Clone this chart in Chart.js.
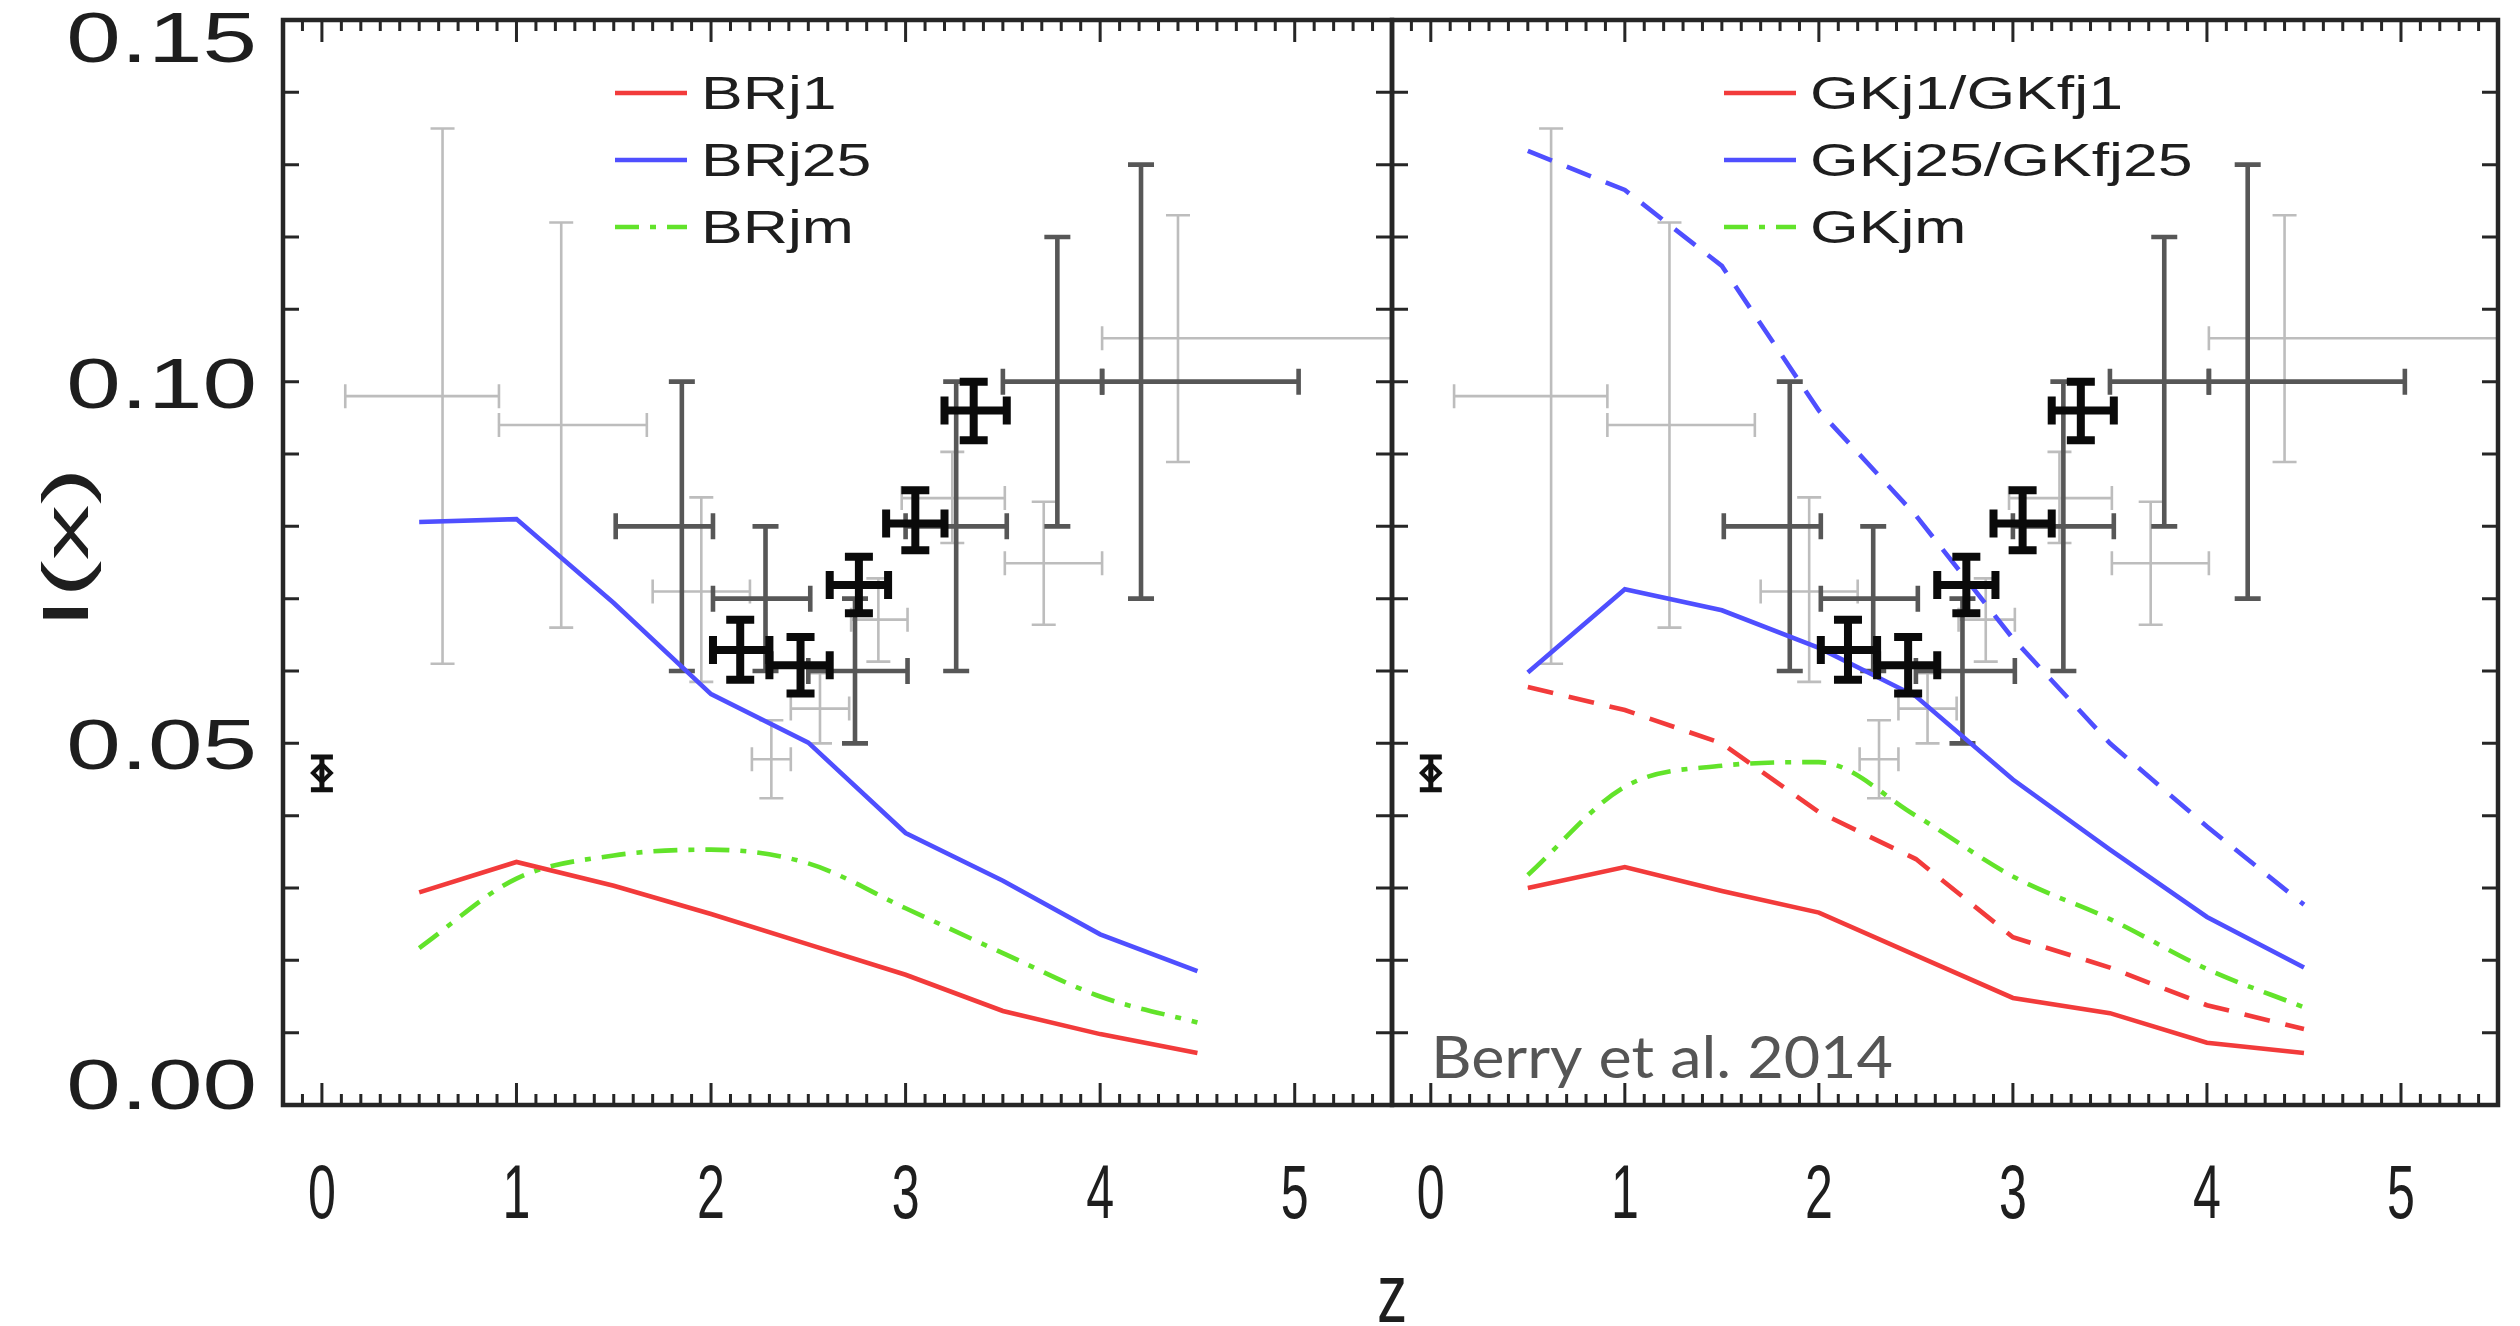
<!DOCTYPE html>
<html>
<head>
<meta charset="utf-8">
<title>I(x) versus z</title>
<script src="https://cdn.jsdelivr.net/npm/chart.js@4.4.1/dist/chart.umd.min.js"></script>
<style>
  html, body { margin: 0; padding: 0; background: #fff; }
  #wrap { position: relative; width: 2520px; height: 1326px; overflow: hidden; background: #fff; }
  #left  { position: absolute; left: 0; top: 0; }
  #right { position: absolute; left: 1370px; top: 0; }
</style>
</head>
<body>
<div id="wrap">
  <canvas id="left" width="1430" height="1326"></canvas>
  <canvas id="right" width="1150" height="1326"></canvas>
</div>
<script>
// ---- model curves, sampled in redshift ----
const zModel = [0.5, 1.0, 1.5, 2.0, 2.5, 3.0, 3.5, 4.0, 4.5];
const brj1   = [0.0294, 0.0336, 0.0303, 0.0264, 0.0222, 0.0180, 0.0130, 0.0098, 0.0072];
const brj25  = [0.0806, 0.0810, 0.0694, 0.0568, 0.0501, 0.0376, 0.0310, 0.0236, 0.0185];
const brjm   = [0.0217, 0.0313, 0.0345, 0.0353, 0.0334, 0.0272, 0.0210, 0.0150, 0.0114];
const gkj1   = [0.0300, 0.0329, 0.0296, 0.0266, 0.0207, 0.0148, 0.0127, 0.0086, 0.0072];
const gkfj1  = [0.0578, 0.0546, 0.0500, 0.0405, 0.0340, 0.0232, 0.0190, 0.0138, 0.0105];
const gkj25  = [0.0598, 0.0713, 0.0684, 0.0632, 0.0565, 0.0450, 0.0353, 0.0260, 0.0190];
const gkfj25 = [0.1319, 0.1265, 0.1160, 0.0960, 0.0815, 0.0645, 0.0500, 0.0385, 0.0277];
const gkjm   = [0.0318, 0.0440, 0.0469, 0.0474, 0.0400, 0.0316, 0.0257, 0.0188, 0.0135];

// ---- measurements (centre, z range, I range) ----
// older, wide-bin estimates
const lightZ   = [0.62, 1.23, 1.95, 2.31, 2.56, 2.86, 3.24, 3.71, 4.40];
const lightZLo = [0.12, 0.91, 1.70, 2.21, 2.41, 2.72, 2.98, 3.51, 4.01];
const lightZHi = [0.91, 1.67, 2.20, 2.41, 2.71, 3.01, 3.51, 4.01, 5.60];
const lightI   = [0.0980, 0.0940, 0.0710, 0.0478, 0.0548, 0.0671, 0.0839, 0.0749, 0.1060];
const lightILo = [0.0610, 0.0660, 0.0585, 0.0424, 0.0500, 0.0613, 0.0777, 0.0664, 0.0889];
const lightIHi = [0.1350, 0.1220, 0.0840, 0.0532, 0.0597, 0.0728, 0.0903, 0.0834, 0.1230];
// intermediate estimates
const darkZ   = [1.85, 2.28, 2.74, 3.26, 3.78, 4.21];
const darkZLo = [1.51, 2.01, 2.50, 3.00, 3.50, 4.01];
const darkZHi = [2.01, 2.51, 3.01, 3.52, 4.01, 5.02];
const darkI   = [0.080, 0.070, 0.060, 0.080, 0.100, 0.100];
const darkILo = [0.060, 0.060, 0.050, 0.060, 0.080, 0.070];
const darkIHi = [0.100, 0.080, 0.070, 0.100, 0.120, 0.130];
// high-precision estimates
const boldZ   = [2.15, 2.46, 2.76, 3.05, 3.35];
const boldZLo = [2.01, 2.30, 2.61, 2.90, 3.20];
const boldZHi = [2.30, 2.61, 2.91, 3.20, 3.52];
const boldI   = [0.0629, 0.0608, 0.0719, 0.0804, 0.0960];
const boldILo = [0.0588, 0.0569, 0.0680, 0.0767, 0.0919];
const boldIHi = [0.0671, 0.0647, 0.0758, 0.0850, 0.1000];
// local (z = 0) value
const localZ   = [0.0];
const localI   = [0.0459];
const localILo = [0.0436];
const localIHi = [0.0481];

// ---- axes ----
const zMin = -0.2, zMax = 5.5;
const iMin = 0.0,  iMax = 0.15;
const zTicks = [0, 1, 2, 3, 4, 5];
const zTickText = ['0', '1', '2', '3', '4', '5'];
const iTicks = [0.00, 0.05, 0.10, 0.15];
const iTickText = ['0.00', '0.05', '0.10', '0.15'];

const RED = '#f23b3b', BLUE = '#4f4fff', GREEN = '#62e32a';
const DASH = [26, 16];
const DASHDOT = [24, 11, 6, 11];

const pts = (xs, ys) => xs.map((x, i) => ({ x: x, y: ys[i] }));

function curve(label, values, color, dash, smooth, legendText) {
  return {
    type: 'line', label: label, data: pts(zModel, values),
    borderColor: color, borderWidth: 4.6, borderDash: dash || [],
    pointRadius: 0, fill: false, tension: 0,
    cubicInterpolationMode: smooth ? 'monotone' : 'default',
    legendText: legendText
  };
}

function observations() {
  return [
    { type: 'scatter', label: 'wide bins', data: pts(lightZ, lightI), pointRadius: 0,
      err: { zLo: lightZLo, zHi: lightZHi, iLo: lightILo, iHi: lightIHi },
      errStyle: { color: '#bdbdbd', width: 2.6, cap: 24, over: false } },
    { type: 'scatter', label: 'intermediate', data: pts(darkZ, darkI), pointRadius: 0,
      err: { zLo: darkZLo, zHi: darkZHi, iLo: darkILo, iHi: darkIHi },
      errStyle: { color: '#575757', width: 4.6, cap: 26, over: false } },
    { type: 'scatter', label: 'precise', data: pts(boldZ, boldI), pointRadius: 0,
      err: { zLo: boldZLo, zHi: boldZHi, iLo: boldILo, iHi: boldIHi },
      errStyle: { color: '#0a0a0a', width: 8, cap: 28, over: true } },
    { type: 'scatter', label: 'local', data: pts(localZ, localI),
      pointStyle: 'rectRot', pointRadius: 9, borderWidth: 4,
      borderColor: '#111', backgroundColor: 'rgba(255,255,255,0)',
      err: { zLo: localZ, zHi: localZ, iLo: localILo, iHi: localIHi },
      errStyle: { color: '#111', width: 5, cap: 22, over: true } }
  ];
}

// error bars drawn through the chart scales
function drawErrorBars(chart, over) {
  const { ctx, chartArea: a, scales: { x, y } } = chart;
  ctx.save();
  ctx.beginPath();
  ctx.rect(a.left, a.top, a.right - a.left, a.bottom - a.top);
  ctx.clip();
  chart.data.datasets.forEach(ds => {
    if (!ds.err || ds.errStyle.over !== over) return;
    const st = ds.errStyle, e = ds.err, h = st.cap / 2;
    ctx.strokeStyle = st.color;
    ctx.lineWidth = st.width;
    ctx.lineCap = 'butt';
    ctx.setLineDash([]);
    ds.data.forEach((p, i) => {
      const px = x.getPixelForValue(p.x), py = y.getPixelForValue(p.y);
      const xl = x.getPixelForValue(e.zLo[i]), xr = x.getPixelForValue(e.zHi[i]);
      const yb = y.getPixelForValue(e.iLo[i]), yt = y.getPixelForValue(e.iHi[i]);
      ctx.beginPath();
      if (xr - xl > 1) {
        ctx.moveTo(xl, py); ctx.lineTo(xr, py);
        ctx.moveTo(xl, py - h); ctx.lineTo(xl, py + h);
        ctx.moveTo(xr, py - h); ctx.lineTo(xr, py + h);
      }
      ctx.moveTo(px, yb); ctx.lineTo(px, yt);
      ctx.moveTo(px - h, yb); ctx.lineTo(px + h, yb);
      ctx.moveTo(px - h, yt); ctx.lineTo(px + h, yt);
      ctx.stroke();
    });
  });
  ctx.restore();
}

const errorBars = {
  id: 'errorBars',
  beforeDatasetsDraw(chart) { drawErrorBars(chart, false); },
  afterDatasetsDraw(chart) { drawErrorBars(chart, true); }
};

// text with a horizontal stretch about its anchor
function stretchedText(ctx, txt, x, y, sx, align) {
  ctx.save();
  ctx.translate(x, y);
  ctx.scale(sx, 1);
  ctx.textAlign = align;
  ctx.fillText(txt, 0, 0);
  ctx.restore();
}

// frame, inward ticks, tick labels and titles
const frame = {
  id: 'frame',
  afterDraw(chart, args, opts) {
    const { ctx, chartArea: a, scales: { x, y } } = chart;
    ctx.save();
    ctx.strokeStyle = '#262626';
    ctx.lineCap = 'butt';
    ctx.setLineDash([]);
    // ticks along z
    ctx.lineWidth = 3;
    ctx.beginPath();
    for (let k = Math.ceil(zMin * 10); k <= Math.floor(zMax * 10); k++) {
      const px = x.getPixelForValue(k / 10);
      const len = (k % 10 === 0) ? 22 : 11;
      ctx.moveTo(px, a.bottom); ctx.lineTo(px, a.bottom - len);
      ctx.moveTo(px, a.top);    ctx.lineTo(px, a.top + len);
    }
    // ticks along I
    for (let k = 1; k < 15; k++) {
      const py = y.getPixelForValue(k / 100);
      ctx.moveTo(a.left, py);  ctx.lineTo(a.left + 16, py);
      ctx.moveTo(a.right, py); ctx.lineTo(a.right - 16, py);
    }
    ctx.stroke();
    // box
    ctx.lineWidth = 4.5;
    ctx.strokeRect(a.left, a.top, a.right - a.left, a.bottom - a.top);

    ctx.fillStyle = '#1e1e1e';
    // z tick labels
    ctx.font = '76px "Liberation Sans", Arial, sans-serif';
    ctx.textBaseline = 'alphabetic';
    zTicks.forEach((t, i) => {
      stretchedText(ctx, zTickText[i], x.getPixelForValue(t), a.bottom + 113, 0.66, 'center');
    });
    if (opts.iLabels) {
      ctx.font = '70px "Liberation Sans", Arial, sans-serif';
      iTicks.forEach((t, i) => {
        const py = y.getPixelForValue(t);
        const base = Math.min(Math.max(py + 26, a.top + 42), a.bottom + 4);
        stretchedText(ctx, iTickText[i], a.left - 26, base, 1.4, 'right');
      });
      // I(x) title, stretched along its reading direction
      ctx.save();
      ctx.translate(70, 548);
      ctx.rotate(-Math.PI / 2);
      ctx.scale(1.75, 1);
      ctx.font = '64px "Liberation Sans", Arial, sans-serif';
      ctx.textAlign = 'center';
      ctx.textBaseline = 'middle';
      ctx.fillText('I(x)', 0, 0);
      ctx.restore();
      // shared z title
      ctx.font = '84px "Liberation Sans", Arial, sans-serif';
      stretchedText(ctx, 'z', a.right, 1322, 0.72, 'center');
    }
    if (opts.credit) {
      ctx.font = '58px Lato, "Open Sans", sans-serif';
      ctx.fillStyle = '#555555';
      const w = ctx.measureText(opts.credit).width;
      stretchedText(ctx, opts.credit, a.left + 39, a.bottom - 27, 462 / w, 'left');
    }
    ctx.restore();
  }
};

// legend built from the datasets that carry legend text
const panelLegend = {
  id: 'panelLegend',
  afterDraw(chart) {
    const { ctx, chartArea: a } = chart;
    const items = chart.data.datasets.filter(d => d.legendText);
    ctx.save();
    items.forEach((ds, k) => {
      const yr = a.top + 73 + k * 67;
      const x0 = a.left + 332;
      ctx.strokeStyle = ds.borderColor;
      ctx.lineWidth = ds.borderWidth;
      ctx.setLineDash(ds.borderDash || []);
      ctx.beginPath();
      ctx.moveTo(x0, yr); ctx.lineTo(x0 + 72, yr);
      ctx.stroke();
      ctx.setLineDash([]);
      ctx.fillStyle = '#1e1e1e';
      ctx.font = '46px "Liberation Sans", Arial, sans-serif';
      ctx.textBaseline = 'alphabetic';
      stretchedText(ctx, ds.legendText, x0 + 86, yr + 16, 1.36, 'left');
    });
    ctx.restore();
  }
};

function panelOptions(padLeft, padRight, frameOpts) {
  return {
    responsive: false,
    animation: false,
    events: [],
    layout: { padding: { left: padLeft, right: padRight, top: 20, bottom: 221 } },
    scales: {
      x: { type: 'linear', min: zMin, max: zMax, display: false },
      y: { type: 'linear', min: iMin, max: iMax, display: false }
    },
    plugins: {
      legend: { display: false },
      tooltip: { enabled: false },
      frame: frameOpts
    }
  };
}

new Chart(document.getElementById('left'), {
  type: 'line',
  data: {
    datasets: [
      curve('BRj1', brj1, RED, null, false, 'BRj1'),
      curve('BRj25', brj25, BLUE, null, false, 'BRj25'),
      curve('BRjm', brjm, GREEN, DASHDOT, true, 'BRjm'),
      ...observations()
    ]
  },
  options: panelOptions(283, 38, { iLabels: true }),
  plugins: [errorBars, frame, panelLegend]
});

new Chart(document.getElementById('right'), {
  type: 'line',
  data: {
    datasets: [
      curve('GKj1', gkj1, RED, null, false, 'GKj1/GKfj1'),
      curve('GKj25', gkj25, BLUE, null, false, 'GKj25/GKfj25'),
      curve('GKjm', gkjm, GREEN, DASHDOT, true, 'GKjm'),
      curve('GKfj1', gkfj1, RED, DASH, false, null),
      curve('GKfj25', gkfj25, BLUE, DASH, false, null),
      ...observations()
    ]
  },
  options: panelOptions(22, 22, { iLabels: false, credit: 'Berry et al. 2014' }),
  plugins: [errorBars, frame, panelLegend]
});
</script>
</body>
</html>
